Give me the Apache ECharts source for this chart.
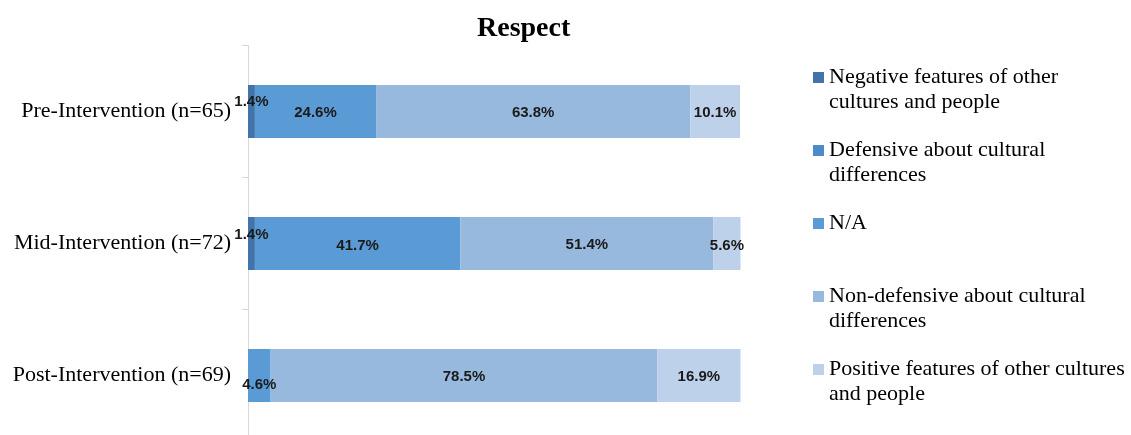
<!DOCTYPE html>
<html>
<head>
<meta charset="utf-8">
<script src="https://cdn.jsdelivr.net/npm/echarts@6/dist/echarts.min.js"></script>
<style>html,body{margin:0;padding:0;background:#fff}#c{width:1131px;height:435px}</style>
</head>
<body>
<div id="c"></div>
<script>
const title = 'Respect';
const categories = ['Pre-Intervention (n=65)', 'Mid-Intervention (n=72)', 'Post-Intervention (n=69)'];
const seriesNames = [
  'Negative features of other cultures and people',
  'Defensive about cultural differences',
  'N/A',
  'Non-defensive about cultural differences',
  'Positive features of other cultures and people'
];
const negative = [1.4, 1.4, 0];
const defensive = [0, 0, 0];
const na = [24.6, 41.7, 4.6];
const nonDefensive = [63.8, 51.4, 78.5];
const positive = [10.1, 5.6, 16.9];

const legendText = {
  'Negative features of other cultures and people': ' \nNegative features of other\ncultures and people',
  'Defensive about cultural differences': ' \nDefensive about cultural\ndifferences',
  'N/A': ' \nN/A\n ',
  'Non-defensive about cultural differences': ' \nNon-defensive about cultural\ndifferences',
  'Positive features of other cultures and people': ' \nPositive features of other cultures\nand people'
};
const colors = ['#4274A9', '#4D8BC8', '#5B9BD5', '#98B9DE', '#BDD1EB'];
const values = [negative, defensive, na, nonDefensive, positive];
// label vertical offsets for small segments (style only)
const labelOffsets = [
  [[0, -10], [0, -9], [0, 0]],
  [[0, 0], [0, 0], [0, 0]],
  [[0, 1], [0, 2], [0, 9]],
  [[0, 1], [0, 1], [0, 1]],
  [[0, 1], [0, 2], [0, 1]]
];

const chart = echarts.init(document.getElementById('c'), null, {renderer: 'canvas'});
chart.setOption({
  animation: false,
  backgroundColor: '#fff',
  title: {
    text: title,
    left: 477,
    top: 15,
    padding: 0,
    textStyle: {fontFamily: 'Liberation Serif', fontWeight: 'bold', fontSize: 28, color: '#000'}
  },
  legend: {
    orient: 'vertical',
    left: 813,
    top: 40,
    padding: 0,
    itemWidth: 11,
    itemHeight: 11,
    itemGap: -2,
    icon: 'rect',
    data: seriesNames,
    formatter: n => legendText[n],
    textStyle: {fontFamily: 'Liberation Serif', fontSize: 22, color: '#000', lineHeight: 25}
  },
  grid: {left: 248, width: 492.5, top: 45.5, height: 396, outerBoundsMode: 'none', containLabel: false},
  xAxis: {
    type: 'value', min: 0, max: 100, show: false
  },
  yAxis: {
    type: 'category',
    data: categories,
    inverse: true,
    axisLine: {show: true, lineStyle: {color: '#d9d9d9', width: 1}},
    axisTick: {show: true, length: 6, lineStyle: {color: '#d9d9d9'}},
    axisLabel: {fontFamily: 'Liberation Serif', fontSize: 22, color: '#000', margin: 17, lineHeight: 28, padding: [6, 0, 0, 0]}
  },
  series: seriesNames.map((name, i) => ({
    name: name,
    type: 'bar',
    stack: 'total',
    barWidth: 53,
    itemStyle: {color: colors[i]},
    data: values[i].map((v, j) => ({
      value: v,
      label: {offset: labelOffsets[i][j]}
    })),
    label: {
      show: true,
      position: 'inside',
      fontFamily: 'Liberation Sans',
      fontWeight: 'bold',
      fontSize: 15,
      color: '#1a1a1a',
      formatter: p => p.value > 0 ? p.value.toFixed(1) + '%' : ''
    }
  }))
});
</script>
</body>
</html>
